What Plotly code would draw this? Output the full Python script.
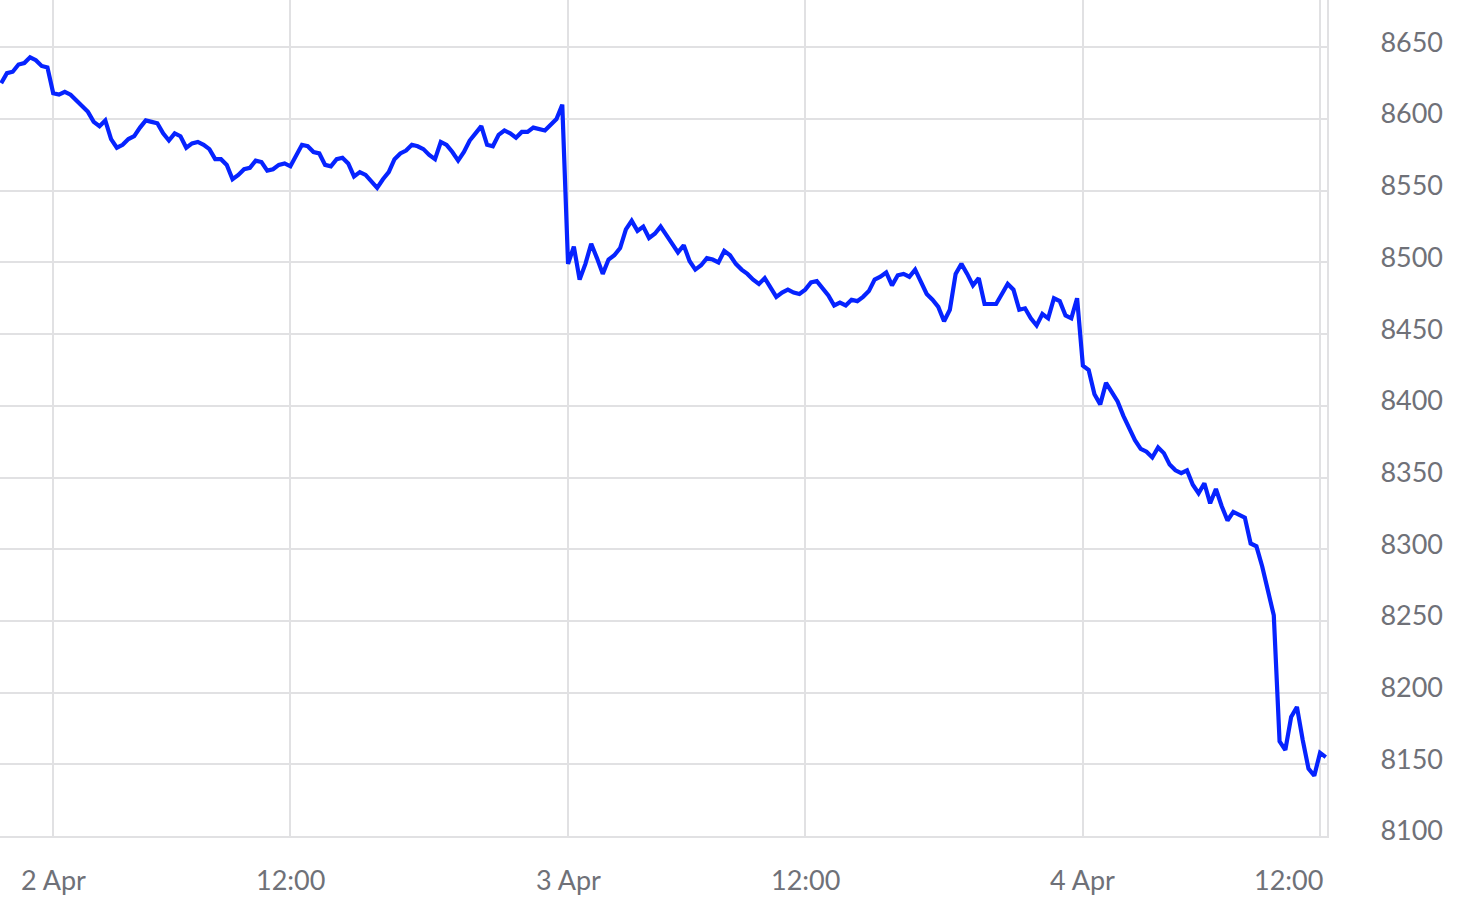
import pandas as pd
import plotly.graph_objects as go

# index level, one value every 15 min (trading pauses 01:00-02:45 each night)
apr1_eve = [8625, 8632, 8633, 8638, 8639, 8643, 8641, 8637, 8636,
            8618, 8617, 8619, 8617]
apr2_am = [8613, 8610, 8605, 8598, 8595, 8599, 8586, 8580, 8582, 8586,
           8588, 8594, 8599, 8598, 8597, 8590, 8585, 8590, 8588, 8580,
           8583, 8584, 8582, 8579, 8572, 8572, 8568, 8558, 8561, 8565,
           8566, 8571, 8570, 8564, 8565, 8568, 8569, 8567]
apr2_pm = [8575, 8582, 8581, 8577, 8576, 8568, 8567, 8572, 8573, 8569,
           8560, 8563, 8561, 8556, 8552, 8558, 8563, 8572, 8576, 8578,
           8582, 8581, 8579, 8575, 8572, 8584, 8582, 8577, 8571, 8577,
           8585, 8590, 8595, 8582, 8581, 8589, 8592, 8590, 8587, 8591,
           8591, 8594, 8593, 8592, 8596, 8600, 8610,
           8499, 8511, 8488, 8499]
apr3_am = [8513, 8503, 8492, 8502, 8505, 8510, 8523, 8529, 8522, 8525,
           8517, 8520, 8525, 8519, 8513, 8507, 8512, 8501, 8495, 8498,
           8503, 8502, 8500, 8508, 8505, 8499, 8495, 8492, 8488, 8485,
           8489, 8483, 8476, 8479, 8481, 8479, 8478, 8481]
apr3_pm = [8486, 8487, 8482, 8477, 8470, 8472, 8470, 8474, 8473, 8476,
           8480, 8488, 8490, 8493, 8484, 8491, 8492, 8490, 8495, 8486,
           8478, 8474, 8469, 8459, 8467, 8492, 8499, 8492, 8484, 8489,
           8471, 8471, 8471, 8478, 8485, 8481, 8467, 8468, 8461, 8456,
           8464, 8461, 8475, 8473, 8463, 8461, 8475,
           8428, 8425, 8408, 8401]
apr4_am = [8416, 8410, 8403, 8393, 8384, 8376, 8370, 8368, 8364, 8371,
           8367, 8359, 8355, 8353, 8355, 8345, 8339, 8346, 8332, 8342,
           8330, 8320, 8326, 8324, 8322, 8304, 8302, 8288, 8272, 8254,
           8166, 8160, 8183, 8190, 8167, 8147, 8142, 8158, 8155]

sessions = [("2025-04-01 21:45", apr1_eve),
            ("2025-04-02 02:45", apr2_am + apr2_pm),
            ("2025-04-03 02:45", apr3_am + apr3_pm),
            ("2025-04-04 02:45", apr4_am)]

tick_dates = ["2025-04-02 00:00", "2025-04-02 12:00", "2025-04-03 00:00",
              "2025-04-03 12:00", "2025-04-04 00:00", "2025-04-04 12:00"]
tick_text = ["2 Apr", "12:00", "3 Apr", "12:00", "4 Apr", "12:00"]
pause_days = ["2025-04-02", "2025-04-03", "2025-04-04"]

times = []
values = []
for start, vals in sessions:
    times += list(pd.date_range(start, periods=len(vals), freq="15min"))
    values += vals

df = pd.DataFrame({"time": times, "value": values})

grey = "#e1e1e3"
label_col = "#6f7178"
font = "Lato"

fig = go.Figure()
fig.add_trace(go.Scatter(x=df["time"], y=df["value"], mode="lines",
                         line=dict(color="#0623ff", width=4.2),
                         hoverinfo="skip"))

fig.update_layout(
    width=1462, height=912,
    margin=dict(l=0, r=135, t=0, b=76),
    plot_bgcolor="white", paper_bgcolor="white",
    showlegend=False,
    font=dict(family=font, size=27, color=label_col),
)
fig.update_xaxes(
    range=["2025-04-01 21:42", "2025-04-04 12:18"],
    rangebreaks=[dict(bounds=[d + " 01:00", d + " 02:45"]) for d in pause_days],
    tickvals=tick_dates, showticklabels=False,
    showgrid=True, gridcolor=grey, gridwidth=2,
    showline=True, linecolor=grey, linewidth=2,
    zeroline=False,
)
fig.update_yaxes(
    side="right", range=[8100, 8683], dtick=50, tick0=8100,
    showgrid=True, gridcolor=grey, gridwidth=2,
    showline=True, linecolor=grey, linewidth=2,
    zeroline=False,
    ticklabelstandoff=46, ticklabelshift=-5,
    tickfont=dict(family=font, size=27, color=label_col),
)

# x labels as text under the ticks; the last one is kept inside the plot
for i, (d, t) in enumerate(zip(tick_dates, tick_text)):
    last = i == len(tick_dates) - 1
    fig.add_annotation(x=d, y=0, xref="x", yref="paper", text=t,
                       showarrow=False, yanchor="middle", yshift=-43,
                       xanchor="right" if last else "center",
                       xshift=5 if last else 0,
                       font=dict(family=font, size=27, color=label_col))

fig.write_html("out.html", config={"displayModeBar": False},
               post_script="document.body.style.margin='0';")
